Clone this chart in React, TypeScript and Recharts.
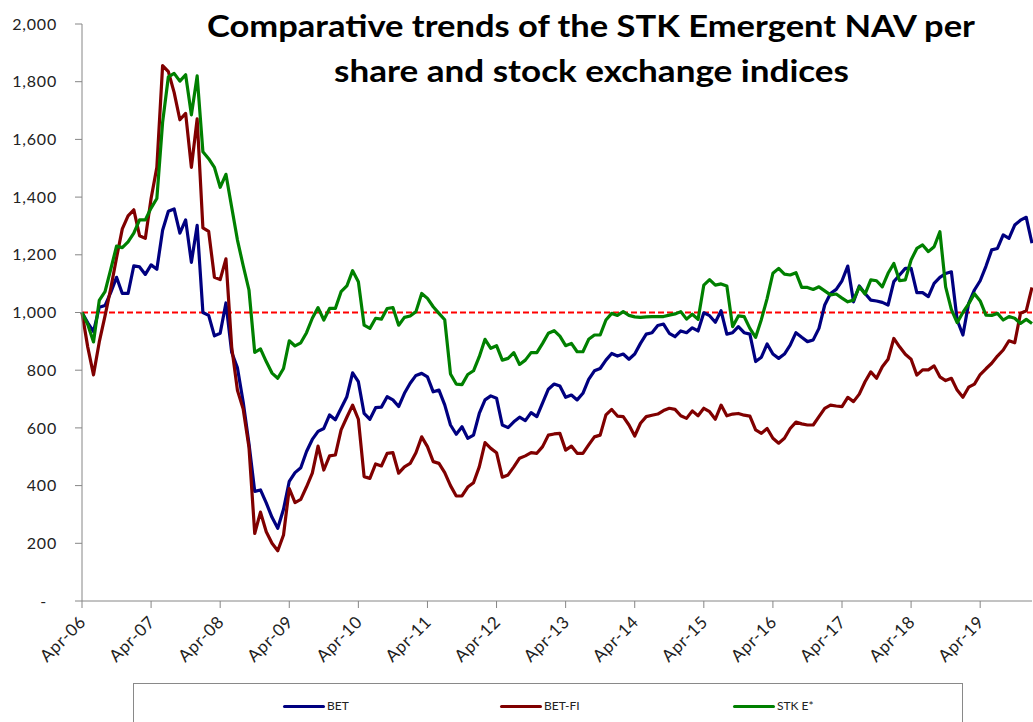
import { LineChart, Line, XAxis, YAxis, ReferenceLine, Legend } from "recharts";

// monthly observations, Apr-06 .. Jan-20 (base 1000)
const BET = [
  1000, 964, 934, 1018, 1024, 1070, 1122, 1066, 1066, 1162, 1158, 1132,
  1165, 1150, 1285, 1351, 1359, 1275, 1321, 1174, 1302, 1000, 990, 919,
  928, 1033, 862, 808, 689, 545, 380, 385, 340, 290, 252, 318,
  415, 445, 462, 518, 560, 588, 598, 645, 628, 668, 708, 791,
  760, 650, 630, 670, 672, 708, 697, 674, 720, 755, 782, 789,
  777, 725, 731, 680, 610, 578, 604, 564, 575, 650, 697, 711,
  703, 610, 601, 621, 637, 625, 653, 639, 687, 734, 752, 745,
  706, 714, 697, 720, 768, 798, 806, 835, 858, 849, 856, 838,
  856, 893, 925, 930, 955, 960, 928, 916, 936, 930, 947, 936,
  999, 989, 966, 1006, 925, 930, 951, 930, 925, 830, 845, 891,
  856, 841, 856, 887, 930, 914, 899, 905, 945, 1026, 1066, 1080,
  1110, 1161, 1037, 1092, 1066, 1043, 1040, 1035, 1026, 1107, 1130, 1153,
  1153, 1069, 1069, 1055, 1101, 1122, 1135, 1141, 974, 922, 1032, 1078,
  1110, 1160, 1217, 1222, 1269, 1257, 1303, 1320, 1330, 1240,
];

const BET_FI = [
  1000, 880, 784, 898, 988, 1084, 1190, 1290, 1335, 1356, 1266, 1257,
  1395, 1503, 1856, 1835, 1763, 1668, 1690, 1503, 1671, 1293, 1281, 1122,
  1114, 1186, 880, 730, 665, 533, 234, 308, 240, 200, 174, 229,
  390, 341, 352, 396, 443, 537, 454, 503, 506, 593, 637, 679,
  630, 431, 425, 475, 468, 512, 514, 443, 465, 477, 514, 569,
  535, 483, 477, 445, 400, 364, 364, 395, 410, 465, 549, 529,
  514, 429, 437, 465, 495, 503, 514, 512, 535, 575, 579, 581,
  523, 537, 512, 512, 541, 569, 575, 645, 664, 641, 639, 610,
  572, 616, 639, 644, 648, 660, 668, 664, 642, 633, 659, 642,
  668, 656, 630, 679, 642, 648, 650, 644, 641, 593, 581, 598,
  564, 547, 564, 598, 620, 614, 610, 610, 639, 668, 679, 676,
  674, 706, 691, 717, 760, 794, 772, 812, 838, 910, 881, 855,
  838, 783, 801, 801, 815, 777, 764, 772, 731, 706, 741, 752,
  785, 805, 824, 849, 870, 902, 895, 997, 1006, 1087,
];

const STK_E = [
  1000, 958, 898, 1042, 1072, 1150, 1230, 1225, 1245, 1275, 1321, 1321,
  1362, 1395, 1659, 1817, 1829, 1802, 1824, 1685, 1820, 1557, 1533, 1503,
  1434, 1479, 1365, 1251, 1162, 1078, 862, 874, 830, 790, 772, 806,
  902, 884, 895, 930, 980, 1017, 974, 1014, 1014, 1072, 1092, 1145,
  1107, 956, 945, 980, 977, 1014, 1017, 956, 983, 988, 1003, 1066,
  1049, 1020, 997, 975, 787, 752, 750, 785, 798, 847, 907, 876,
  885, 835, 841, 861, 820, 835, 861, 861, 893, 928, 937, 918,
  885, 893, 864, 864, 907, 922, 922, 974, 997, 990, 1003, 990,
  985, 983, 985, 986, 986, 986, 991, 995, 1003, 977, 994, 976,
  1095, 1114, 1095, 1099, 1092, 951, 988, 986, 945, 914, 976, 1049,
  1136, 1153, 1133, 1130, 1138, 1087, 1087, 1080, 1089, 1075, 1061, 1064,
  1050, 1037, 1043, 1089, 1064, 1113, 1110, 1089, 1136, 1170, 1110, 1113,
  1182, 1222, 1234, 1211, 1228, 1280, 1089, 1010, 965, 1000, 1030, 1065,
  1040, 991, 990, 997, 974, 986, 980, 962, 976, 962,
];

const MONTH_NAMES = ["Jan", "Feb", "Mar", "Apr", "May", "Jun", "Jul", "Aug", "Sep", "Oct", "Nov", "Dec"];

// category labels: one per month starting Apr-06
const MONTHS: string[] = BET.map((_, k) => {
  const m = 3 + k;
  const yy = 6 + Math.floor(m / 12);
  return `${MONTH_NAMES[m % 12]}-${String(yy).padStart(2, "0")}`;
});

const Y_TICKS = [0, 200, 400, 600, 800, 1000, 1200, 1400, 1600, 1800, 2000];

const TITLE_1 = "Comparative trends of the STK Emergent NAV per";
const TITLE_2 = "share and stock exchange indices";

const SERIES = [
  { key: "bet", name: "BET", color: "#000080", legendX: 149 },
  { key: "betFi", name: "BET-FI", color: "#800000", legendX: 366 },
  { key: "stk", name: "STK E*", color: "#008000", legendX: 599 },
];

const data = MONTHS.map((month, i) => ({
  month,
  bet: BET[i],
  betFi: BET_FI[i],
  stk: STK_E[i],
}));

const FONT = "Lato, 'Open Sans', sans-serif";
const AXIS_GREY = "#868686";

const XTick = ({ x, y, payload }: any) => {
  const ax = x + 5;
  const ay = y + 15;
  return (
    <text
      x={ax}
      y={ay}
      transform={`rotate(-45 ${ax} ${ay})`}
      textAnchor="end"
      fontSize={17}
      fontFamily={FONT}
      letterSpacing={0.6}
      fill="#222"
    >
      {payload.value}
    </text>
  );
};

const YTick = ({ x, y, payload }: any) => {
  const zero = payload.value === 0;
  return (
    <text
      x={zero ? x - 10 : x}
      y={y}
      dy="0.35em"
      textAnchor="end"
      fontSize={16}
      fontFamily={FONT}
      letterSpacing={0.8}
      fill="#222"
    >
      {zero ? "-" : payload.value.toLocaleString("en-US")}
    </text>
  );
};

const LegendBox = () => (
  <div
    style={{
      position: "relative",
      width: 830,
      height: 80,
      border: "1px solid #898989",
      boxSizing: "border-box",
      background: "#fff",
    }}
  >
    {SERIES.map((s) => (
      <div
        key={s.key}
        style={{
          position: "absolute",
          left: s.legendX,
          top: 14,
          height: 16,
          display: "flex",
          alignItems: "center",
        }}
      >
        <span style={{ display: "inline-block", width: 42, height: 3, background: s.color, borderRadius: 1.5 }} />
        <span style={{ marginLeft: 2, fontSize: 12, fontFamily: FONT, color: "#222", lineHeight: "16px" }}>
          {s.name}
        </span>
      </div>
    ))}
  </div>
);

export default function App() {
  return (
    <div
      style={{
        position: "absolute",
        left: 0,
        top: 0,
        width: 1033,
        height: 722,
        overflow: "hidden",
        background: "#fff",
      }}
    >
      <LineChart width={1033} height={760} data={data} margin={{ top: 24, right: 1, bottom: 99, left: 0 }}>
        <XAxis
          dataKey="month"
          interval={11}
          height={60}
          tickSize={7}
          tickMargin={0}
          tick={(p: any) => <XTick {...p} />}
          axisLine={{ stroke: AXIS_GREY }}
          tickLine={{ stroke: AXIS_GREY }}
        />
        <YAxis
          domain={[0, 2000]}
          ticks={Y_TICKS}
          interval={0}
          width={82}
          tickSize={7}
          tickMargin={18}
          tick={(p: any) => <YTick {...p} />}
          axisLine={{ stroke: AXIS_GREY }}
          tickLine={{ stroke: AXIS_GREY }}
        />
        <ReferenceLine y={1000} stroke="#ff0000" strokeWidth={2} strokeDasharray="6 3" />
        {SERIES.map((s) => (
          <Line
            key={s.key}
            type="linear"
            dataKey={s.key}
            name={s.name}
            stroke={s.color}
            strokeWidth={3.2}
            strokeLinejoin="round"
            dot={false}
            isAnimationActive={false}
          />
        ))}
        <Legend
          layout="horizontal"
          verticalAlign="middle"
          align="center"
          wrapperStyle={{ left: 133, top: 683, width: 830, height: 80 }}
          content={() => <LegendBox />}
        />
      </LineChart>
      <svg width={1033} height={100} style={{ position: "absolute", left: 0, top: 0, pointerEvents: "none" }}>
        <text
          x={207}
          y={37}
          textLength={768}
          lengthAdjust="spacingAndGlyphs"
          fontFamily={FONT}
          fontWeight={700}
          fontSize={31}
          fill="#000"
        >
          {TITLE_1}
        </text>
        <text
          x={334}
          y={82}
          textLength={515}
          lengthAdjust="spacingAndGlyphs"
          fontFamily={FONT}
          fontWeight={700}
          fontSize={31}
          fill="#000"
        >
          {TITLE_2}
        </text>
      </svg>
    </div>
  );
}
